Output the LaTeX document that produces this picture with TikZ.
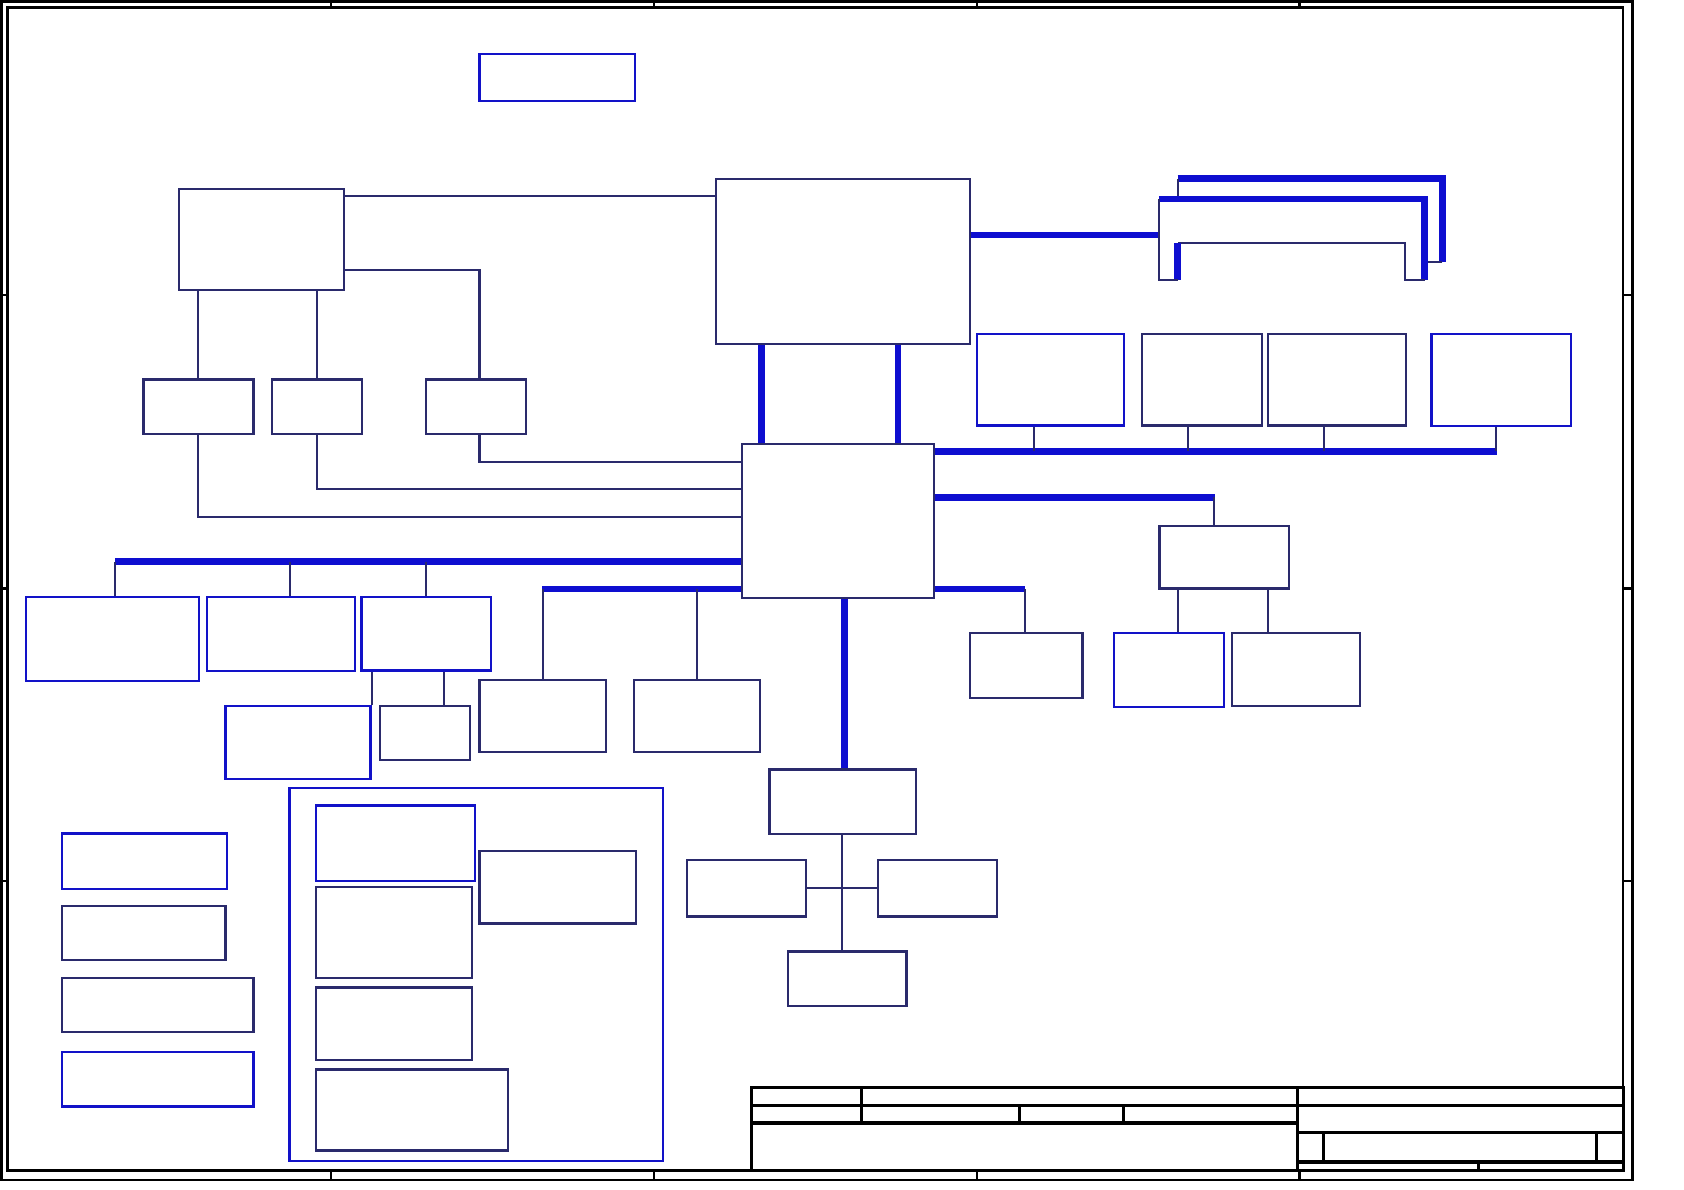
\documentclass[tikz,border=0pt]{standalone}
\usepackage{tikz}
\usetikzlibrary{calc,fit}
\definecolor{navyline}{RGB}{42,42,108}
\definecolor{boxblue}{RGB}{18,18,200}
\definecolor{busblue}{RGB}{14,14,208}
\begin{document}
\begin{tikzpicture}[
    x=0.1mm, y=-0.1mm,
    wire/.style={draw=navyline, line width=0.55pt},
    bus/.style={draw=busblue, line width=1.7pt},
    blk/.style={draw=navyline, line width=0.6pt, inner sep=0pt},
    bblk/.style={draw=boxblue, line width=0.6pt, inner sep=0pt},
    sheet/.style={draw=black, line width=0.6pt},
    tblock/.style={draw=black, line width=0.9pt}
]
\useasboundingbox (0,0) rectangle (1568,1108);
\draw[sheet] (1.5,1.5) rectangle (1520,1098.5);
\draw[sheet] (7,7) rectangle (1511.5,1089.8);
\foreach \x in {308,609,910,1210} {
  \draw[sheet] (\x,1.5) -- (\x,7);
  \draw[sheet] (\x,1089.8) -- (\x,1098.5);
}
\foreach \y in {275,548,820} {
  \draw[sheet] (1.5,\y) -- (7,\y);
  \draw[sheet] (1511.5,\y) -- (1520,\y);
}
\draw[tblock] (700,1012.5) rectangle (1511.5,1089.8);
\draw[tblock] (700,1029.3) -- (1511.5,1029.3);
\draw[tblock] (700,1045.7) -- (1208,1045.7);
\draw[tblock] (802,1012.5) -- (802,1045.7);
\draw[tblock] (949,1029.3) -- (949,1045.7);
\draw[tblock] (1046,1029.3) -- (1046,1045.7);
\draw[tblock] (1208,1012.5) -- (1208,1089.8);
\draw[tblock] (1208,1054.6) -- (1511.5,1054.6);
\draw[tblock] (1208,1082) -- (1511.5,1082);
\draw[tblock] (1232.5,1054.6) -- (1232.5,1082);
\draw[tblock] (1486.5,1054.6) -- (1486.5,1082);
\draw[tblock] (1376.5,1082) -- (1376.5,1089.8);
\node[bblk, fit={(446.5,50.2)(591,94.1)}] (pwr) {};
\node[blk, fit={(166.5,176.3)(320,269.7)}] (clk) {};
\node[blk, fit={(666.5,166.4)(903,320)}] (cpu) {};
\node[blk, fit={(133.5,353.4)(236,404.3)}] (ca) {};
\node[blk, fit={(253,353.4)(337,404.3)}] (cb) {};
\node[blk, fit={(396.5,353.4)(490,404.3)}] (cc) {};
\node[blk, fit={(691,413.3)(869.5,556.5)}] (sb) {};
\node[bblk, fit={(910,310.7)(1046.5,396.2)}] (ra) {};
\node[blk, fit={(1063,310.7)(1175,396.2)}] (rb) {};
\node[blk, fit={(1180.5,310.7)(1309,396.2)}] (rc) {};
\node[bblk, fit={(1333,310.7)(1462.5,396.9)}] (rd) {};
\node[blk, fit={(1079.5,489.8)(1200,547.9)}] (hub) {};
\node[blk, fit={(903,589.7)(1008,650.2)}] (pa) {};
\node[bblk, fit={(1037,589.7)(1140,658)}] (pb) {};
\node[blk, fit={(1147,589.7)(1266.5,657.3)}] (pc) {};
\node[bblk, fit={(24,555.8)(185,633.8)}] (la) {};
\node[bblk, fit={(193,555.8)(330.5,624.6)}] (lb) {};
\node[bblk, fit={(336.5,555.8)(457,624.2)}] (lc) {};
\node[bblk, fit={(210,657.3)(345,725)}] (ld) {};
\node[blk, fit={(353.5,657.3)(437.5,707.9)}] (le) {};
\node[blk, fit={(446.5,633.1)(564,700.4)}] (ma) {};
\node[blk, fit={(590,633.1)(707.5,700.4)}] (mb) {};
\node[blk, fit={(716.5,716.5)(853,776.3)}] (usb) {};
\node[blk, fit={(640,800.5)(750.5,853.3)}] (ua) {};
\node[blk, fit={(817.5,800.5)(928,853.3)}] (ub) {};
\node[blk, fit={(733.5,886)(844,936.6)}] (uc) {};
\node[bblk, fit={(269.5,733.6)(617.5,1081)}] (grp) {};
\node[bblk, fit={(294,750)(442,820)}] (ga) {};
\node[blk, fit={(294,826.2)(439.5,910.6)}] (gb) {};
\node[blk, fit={(294,919.5)(439.5,986.9)}] (gc) {};
\node[blk, fit={(294,995.8)(473,1071.3)}] (gd) {};
\node[blk, fit={(446.5,792.7)(592.5,860)}] (ge) {};
\node[bblk, fit={(57.5,776)(211.5,827.6)}] (ka) {};
\node[blk, fit={(57.5,843.3)(210,894.2)}] (kb) {};
\node[blk, fit={(57.5,910.6)(236,961.2)}] (kc) {};
\node[bblk, fit={(57.5,979.7)(236,1030.3)}] (kd) {};
\draw[wire] ($(clk.north east)+(0,7.2)$) coordinate (c1) -- (c1 -| cpu.west);
\draw[wire] ($(clk.south east)+(0,-19)$) -| ($(cc.north)+(3.2,0)$);
\draw[wire] (ca.north) -- (ca.north |- clk.south);
\draw[wire] (cb.north) -- (cb.north |- clk.south);
\draw[wire] (ca.south) |- (sb.west |- 0,481);
\draw[wire] (cb.south) |- (sb.west |- 0,455);
\draw[wire] ($(cc.south)+(3.2,0)$) |- (sb.west |- 0,430.4);
\draw[bus] (cpu.south -| 709,0) -- (sb.north -| 709,0);
\draw[bus] (cpu.south -| 836,0) -- (sb.north -| 836,0);
\coordinate (dimm) at (1079,218.7);
\draw[bus] (cpu.east |- dimm) -- (dimm);
\draw[bus] (1096.5,166.4) -- (1343,166.4) -- (1343,244);
\draw[wire] (1343,244) -- (1328,244);
\draw[wire] (1096.5,166.4) -- (1096.5,185.2);
\draw[bus] (1079,185.2) -- (1326.5,185.2) -- (1326.5,260.8);
\draw[wire] (1326.5,260.8) -- (1308,260.8) -- (1308,226.2) -- (1096.5,226.2);
\draw[bus] (1096.5,226.2) -- (1096.5,260.5);
\draw[wire] (1096.5,260.5) -- (1079,260.5) -- (1079,185.2);
\draw[bus] (sb.east |- 0,420.4) -- (1394,420.4);
\foreach \n/\x in {ra/962.5,rb/1106,rc/1233,rd/1393}
  \draw[wire] (\n.south -| \x,0) -- (\x,420.4);
\draw[bus] (sb.east |- 0,463.1) -- (1131.5,463.1);
\draw[wire] (1130.5,463.1) -- (hub.north -| 1130.5,0);
\draw[wire] (hub.south -| 1097,0) -- (pb.north -| 1097,0);
\draw[wire] (hub.south -| 1180.5,0) -- (pc.north -| 1180.5,0);
\draw[bus] (sb.east |- 0,548.6) -- (954,548.6);
\draw[wire] (954,548.6) -- (pa.north -| 954,0);
\draw[bus] (sb.west |- 0,523) -- (107.5,523);
\foreach \n/\x in {la/107.5,lb/270,lc/396.5}
  \draw[wire] (\x,523) -- (\n.north -| \x,0);
\draw[bus] (sb.west |- 0,548.6) -- (505,548.6);
\draw[wire] (ma.north) -- (ma.north |- 0,548.6);
\draw[wire] (mb.north) -- (mb.north |- 0,548.6);
\draw[wire] (lc.south -| ld.east) -- (ld.north east);
\draw[wire] (lc.south -| 413.5,0) -- (le.north -| 413.5,0);
\draw[bus] (sb.south -| 786.5,0) -- (usb.north -| 786.5,0);
\draw[wire] (usb.south -| 784,0) -- (uc.north -| 784,0);
\draw[wire] (ua.east) -- (ub.west);
\end{tikzpicture}
\end{document}
